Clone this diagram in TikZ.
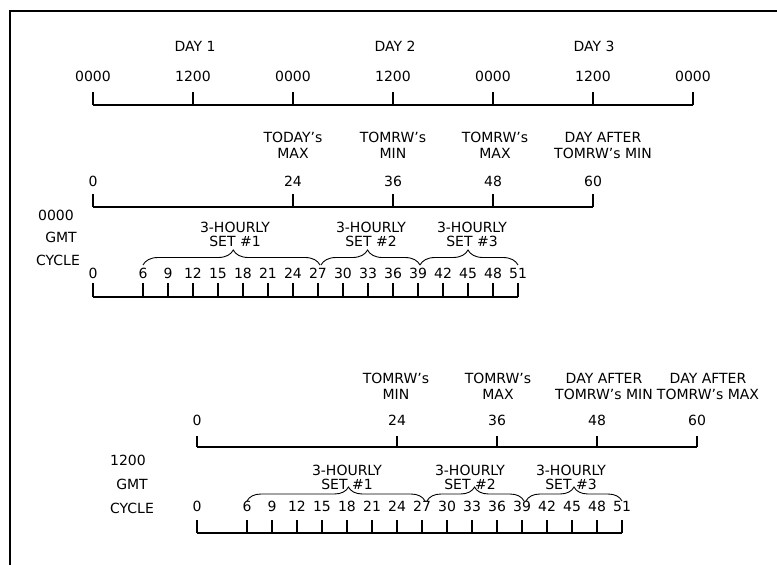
\documentclass[tikz,border=0pt]{standalone}
\usepackage{fontspec}
\setmainfont{DejaVu Sans}
\usetikzlibrary{decorations.pathreplacing}
\begin{document}
\begin{tikzpicture}[x=1pt,y=-1pt,
  lbl/.style={font=\fontsize{14}{16}\selectfont, inner sep=0pt, align=center},
  setlbl/.style={font=\fontsize{14}{14}\selectfont, inner sep=0pt, align=center},
  axisline/.style={line width=1.1pt},
  frameline/.style={line width=1.2pt},
  brc/.style={decorate, decoration={brace, amplitude=#1}, line width=0.9pt},
  brc/.default=15pt]
\useasboundingbox (0,0) rectangle (777,565);
% frame
\coordinate (fr1) at (777,11);
\coordinate (fr2) at (10,11);
\coordinate (fr3) at (10,565);
\draw[frameline] (fr1) -- (fr2) -- (fr3);

% ---------- day axis ----------
\node[lbl] (day1) at (195,46) {DAY 1};
\node[lbl] (day2) at (395,46) {DAY 2};
\node[lbl] (day3) at (594,46) {DAY 3};
\foreach \i/\t in {0/0000,1/1200,2/0000,3/1200,4/0000,5/1200,6/0000}{
  \node[lbl] (dt\i) at ({93+100*\i},76) {\t};
  \coordinate (dtt\i) at ({93+100*\i},92);
  \coordinate (dtb\i) at ({93+100*\i},105);
  \draw[axisline] (dtt\i) -- (dtb\i);
}
\draw[axisline] (dtb0) -- (dtb6);

% ---------- 0000 GMT cycle ----------
\node[lbl] (ca0) at (56,215) {0000};
\node[lbl] (ca1) at (61,237) {GMT};
\node[lbl] (ca2) at (58,260) {CYCLE};

\foreach \h in {0,24,36,48,60}{
  \node[lbl] (an\h) at ({93+\h*25/3},181) {\h};
  \coordinate (att\h) at ({93+\h*25/3},194);
  \coordinate (atb\h) at ({93+\h*25/3},207);
  \draw[axisline] (att\h) -- (atb\h);
}
\draw[axisline] (atb0) -- (atb60);
\node[lbl] (al24) at (293,145) {TODAY's\\MAX};
\node[lbl] (al36) at (393,145) {TOMRW's\\MIN};
\node[lbl] (al48) at (495,145) {TOMRW's\\MAX};
\node[lbl] (al60) at (603,145) {DAY AFTER\\TOMRW's MIN};

\foreach \h in {0,6,9,...,51}{
  \node[lbl] (bn\h) at ({93+\h*25/3},273) {\h};
  \coordinate (btt\h) at ({93+\h*25/3},283);
  \coordinate (btb\h) at ({93+\h*25/3},297);
  \draw[axisline] (btt\h) -- (btb\h);
}
\draw[axisline] (btb0) -- (btb51);
\coordinate (bb6) at ({93+6*25/3},265);
\coordinate (bb27) at ({93+27*25/3+2},265);
\coordinate (bb27b) at ({93+27*25/3+3},265);
\coordinate (bb39) at ({93+39*25/3+2},265);
\coordinate (bb39b) at ({93+39*25/3+2},265);
\coordinate (bb51) at ({93+51*25/3},265);
\draw[brc, decoration={aspect=0.51}] (bb6) -- (bb27);
\draw[brc, decoration={aspect=0.47}] (bb27b) -- (bb39);
\draw[brc, decoration={aspect=0.49}] (bb39b) -- (bb51);
\node[setlbl] (bs1) at (235,234.5) {3-HOURLY\\SET \#1};
\node[setlbl] (bs2) at (371,234.5) {3-HOURLY\\SET \#2};
\node[setlbl] (bs3) at (472,234.5) {3-HOURLY\\SET \#3};

% ---------- 1200 GMT cycle ----------
\node[lbl] (cb0) at (128,460) {1200};
\node[lbl] (cb1) at (132,484) {GMT};
\node[lbl] (cb2) at (132,508) {CYCLE};

\foreach \h in {0,24,36,48,60}{
  \node[lbl] (cn\h) at ({197+\h*25/3},420) {\h};
  \coordinate (ctt\h) at ({197+\h*25/3},436);
  \coordinate (ctb\h) at ({197+\h*25/3},447);
  \draw[axisline] (ctt\h) -- (ctb\h);
}
\draw[axisline] (ctb0) -- (ctb60);
\node[lbl] (cl24) at (396,386) {TOMRW's\\MIN};
\node[lbl] (cl36) at (498,386) {TOMRW's\\MAX};
\node[lbl] (cl48) at (604,386) {DAY AFTER\\TOMRW's MIN};
\node[lbl] (cl60) at (708,386) {DAY AFTER\\TOMRW's MAX};

\foreach \h in {0,6,9,...,51}{
  \node[lbl] (dn\h) at ({197+\h*25/3},506) {\h};
  \coordinate (dtt\h) at ({197+\h*25/3},520);
  \coordinate (dtb\h) at ({197+\h*25/3},533);
  \draw[axisline] (dtt\h) -- (dtb\h);
}
\draw[axisline] (dtb0) -- (dtb51);
\coordinate (db6) at ({197+6*25/3},501);
\coordinate (db27) at ({197+27*25/3+3},501);
\coordinate (db27b) at ({197+27*25/3+5},501);
\coordinate (db39) at ({197+39*25/3+2},501);
\coordinate (db39b) at ({197+39*25/3+4},501);
\coordinate (db51) at ({197+51*25/3},501);
\draw[brc=14pt, decoration={aspect=0.57}] (db6) -- (db27);
\draw[brc=14pt, decoration={aspect=0.49}] (db27b) -- (db39);
\draw[brc=14pt, decoration={aspect=0.5}] (db39b) -- (db51);
\node[setlbl] (ds1) at (347,477) {3-HOURLY\\SET \#1};
\node[setlbl] (ds2) at (470,477) {3-HOURLY\\SET \#2};
\node[setlbl] (ds3) at (571,477) {3-HOURLY\\SET \#3};
\end{tikzpicture}
\end{document}
